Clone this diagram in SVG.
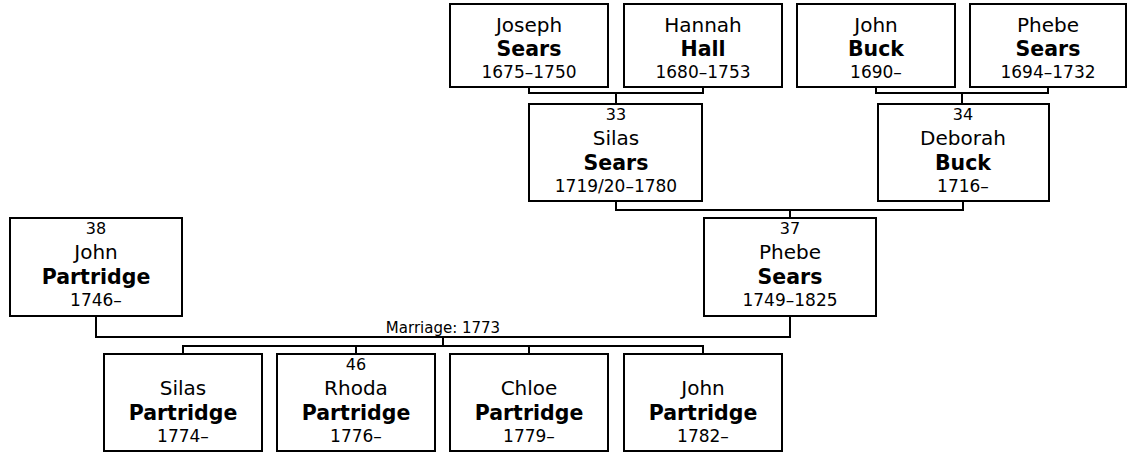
<svg xmlns="http://www.w3.org/2000/svg" width="1129" height="453" viewBox="0 0 1129 453">
<style>
  .box { fill: #ffffff; stroke: #000000; stroke-width: 2; }
  .conn { fill: none; stroke: #000000; stroke-width: 2; }
  text { font-family: "DejaVu Sans", Verdana, sans-serif; fill: #000000; text-anchor: middle; }
  .nm { font-size: 20px; }
  .sn { font-size: 20.5px; font-weight: bold; }
  .dt { font-size: 17px; }
  .no { font-size: 16px; }
  .lbl { font-size: 15px; }
</style>
<rect width="1129" height="453" fill="#ffffff"/>
<g id="connectors">
  <path class="conn" d="M529 88 V93 H703 V88 M616 93 V103"/>
  <path class="conn" d="M876 88 V93 H1048 V88 M962 93 V103"/>
  <path class="conn" d="M616 202 V210 H963 V202 M790 210 V217"/>
  <path class="conn" d="M96 317 V337 H790 V317 M443 337 V346"/>
  <path class="conn" d="M183 353 V346 H703 V353 M356 346 V353 M529 346 V353"/>
  <text class="lbl" x="443" y="333">Marriage: 1773</text>
</g>
<g id="joseph-sears">
  <rect class="box" x="450" y="4" width="158" height="83"/>
  <text class="nm" x="529" y="32">Joseph</text>
  <text class="sn" x="529" y="56">Sears</text>
  <text class="dt" x="529" y="78">1675–1750</text>
</g>
<g id="hannah-hall">
  <rect class="box" x="624" y="4" width="158" height="83"/>
  <text class="nm" x="703" y="32">Hannah</text>
  <text class="sn" x="703" y="56">Hall</text>
  <text class="dt" x="703" y="78">1680–1753</text>
</g>
<g id="john-buck">
  <rect class="box" x="797" y="4" width="158" height="83"/>
  <text class="nm" x="876" y="32">John</text>
  <text class="sn" x="876" y="56">Buck</text>
  <text class="dt" x="876" y="78">1690–</text>
</g>
<g id="phebe-sears-1694">
  <rect class="box" x="970" y="4" width="156" height="83"/>
  <text class="nm" x="1048" y="32">Phebe</text>
  <text class="sn" x="1048" y="56">Sears</text>
  <text class="dt" x="1048" y="78">1694–1732</text>
</g>
<g id="silas-sears">
  <rect class="box" x="529" y="104" width="173" height="97"/>
  <text class="no" x="616" y="120">33</text>
  <text class="nm" x="616" y="145">Silas</text>
  <text class="sn" x="616" y="170">Sears</text>
  <text class="dt" x="616" y="192">1719/20–1780</text>
</g>
<g id="deborah-buck">
  <rect class="box" x="878" y="104" width="171" height="97"/>
  <text class="no" x="963" y="120">34</text>
  <text class="nm" x="963" y="145">Deborah</text>
  <text class="sn" x="963" y="170">Buck</text>
  <text class="dt" x="963" y="192">1716–</text>
</g>
<g id="john-partridge-38">
  <rect class="box" x="10" y="218" width="172" height="98"/>
  <text class="no" x="96" y="234">38</text>
  <text class="nm" x="96" y="259">John</text>
  <text class="sn" x="96" y="284">Partridge</text>
  <text class="dt" x="96" y="306">1746–</text>
</g>
<g id="phebe-sears-37">
  <rect class="box" x="704" y="218" width="172" height="98"/>
  <text class="no" x="790" y="234">37</text>
  <text class="nm" x="790" y="259">Phebe</text>
  <text class="sn" x="790" y="284">Sears</text>
  <text class="dt" x="790" y="306">1749–1825</text>
</g>
<g id="silas-partridge">
  <rect class="box" x="104" y="354" width="158" height="97"/>
  <text class="nm" x="183" y="395">Silas</text>
  <text class="sn" x="183" y="420">Partridge</text>
  <text class="dt" x="183" y="442">1774–</text>
</g>
<g id="rhoda-partridge">
  <rect class="box" x="277" y="354" width="158" height="97"/>
  <text class="no" x="356" y="370">46</text>
  <text class="nm" x="356" y="395">Rhoda</text>
  <text class="sn" x="356" y="420">Partridge</text>
  <text class="dt" x="356" y="442">1776–</text>
</g>
<g id="chloe-partridge">
  <rect class="box" x="450" y="354" width="158" height="97"/>
  <text class="nm" x="529" y="395">Chloe</text>
  <text class="sn" x="529" y="420">Partridge</text>
  <text class="dt" x="529" y="442">1779–</text>
</g>
<g id="john-partridge-1782">
  <rect class="box" x="624" y="354" width="158" height="97"/>
  <text class="nm" x="703" y="395">John</text>
  <text class="sn" x="703" y="420">Partridge</text>
  <text class="dt" x="703" y="442">1782–</text>
</g>
</svg>
